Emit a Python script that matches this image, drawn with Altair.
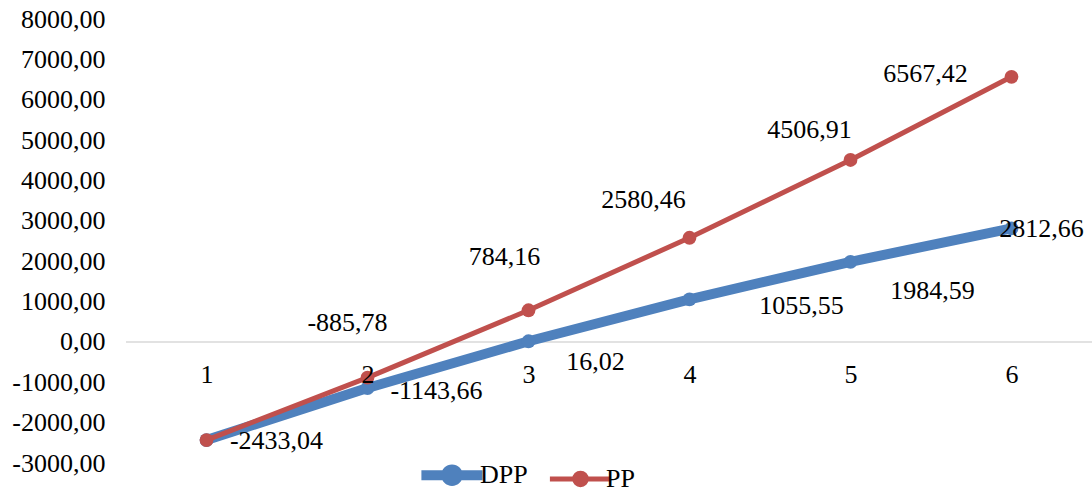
import altair as alt
import pandas as pd

# Payback series by period
periods = [1, 2, 3, 4, 5, 6]
dpp_values = [-2433.04, -1143.66, 16.02, 1055.55, 1984.59, 2812.66]
pp_values = [-2433.04, -885.78, 784.16, 2580.46, 4506.91, 6567.42]
series_names = ["DPP", "PP"]
series_colors = ["#4F81BD", "#C0504D"]
line_widths = [10, 5]
y_ticks = list(range(-3000, 8001, 1000))

# Data-label placement (dx, dy in px from the point); None = no label
dpp_label_offsets = [None, (69, 3), (67, 21), (112, 7), (82, 29), (30, 1)]
pp_label_offsets = [(70, 1), (-20, -55), (-24, -53), (-46, -38), (-41, -30), (-86, -3)]

FONT = "Liberation Serif"
FS = 26


def fmt(v):
    return f"{v:.2f}".replace(".", ",")


rows = []
for name, vals in zip(series_names, [dpp_values, pp_values]):
    for p, v in zip(periods, vals):
        rows.append({"period": p, "series": name, "value": v, "label": fmt(v)})
df = pd.DataFrame(rows)

x_enc = alt.X(
    "period:O",
    scale=alt.Scale(type="point", padding=0.5),
    axis=alt.Axis(
        title=None, orient="bottom", offset=-121, labelAngle=0,
        labelFont=FONT, labelFontSize=FS, labelColor="#000000",
        labelPadding=19, ticks=False, tickSize=0, domain=False,
        grid=False, zindex=1,
    ),
)
y_enc = alt.Y(
    "value:Q",
    scale=alt.Scale(domain=[-3000, 8000], nice=False, zero=False),
    axis=alt.Axis(
        title=None, values=y_ticks, grid=False, domain=False, ticks=False,
        labelFont=FONT, labelFontSize=FS, labelColor="#000000", labelPadding=21,
        labelExpr="(datum.value < 0 ? '-' : '') + replace(format(abs(datum.value), '.2f'), '.', ',')",
    ),
)

# Legend swatch: a line with a solid dot (concentric stroked rings fill the dot)
legend_symbol = (
    "M-1.33,0L1.33,0"
    "M0.1,0A0.1,0.1,0,1,1,-0.1,0A0.1,0.1,0,1,1,0.1,0"
    "M0.25,0A0.25,0.25,0,1,1,-0.25,0A0.25,0.25,0,1,1,0.25,0"
)
legend = alt.Legend(
    title=None, orient="none", legendX=298, legendY=428, direction="horizontal",
    symbolType=legend_symbol, symbolSize=2116, labelFont=FONT, labelFontSize=FS,
    labelColor="#000000", labelOffset=0, columnPadding=11, padding=0,
)
color_enc = alt.Color(
    "series:N", scale=alt.Scale(domain=series_names, range=series_colors), legend=legend
)
width_enc = alt.StrokeWidth(
    "series:N", scale=alt.Scale(domain=series_names, range=line_widths), legend=legend
)

# Zero baseline of the category axis, drawn beneath the series
zero_line = alt.Chart(pd.DataFrame({"z": [0]})).mark_rule(
    color="#d9d9d9", strokeWidth=1.5
).encode(y=alt.Y("z:Q", scale=alt.Scale(domain=[-3000, 8000], nice=False, zero=False)))

layers = [zero_line]
for name in series_names:
    sub = alt.Chart(df).transform_filter(alt.datum.series == name)
    layers.append(
        sub.mark_line(strokeCap="round", strokeJoin="round").encode(
            x=x_enc, y=y_enc, color=color_enc, strokeWidth=width_enc
        )
    )
    layers.append(
        sub.mark_circle(size=190, opacity=1).encode(x=x_enc, y=y_enc, color=color_enc)
    )

# Value labels
for name, vals, offsets in [
    ("DPP", dpp_values, dpp_label_offsets),
    ("PP", pp_values, pp_label_offsets),
]:
    for p, v, off in zip(periods, vals, offsets):
        if off is None:
            continue
        one = pd.DataFrame([{"period": p, "value": v, "label": fmt(v)}])
        layers.append(
            alt.Chart(one)
            .mark_text(dx=off[0], dy=off[1], font=FONT, fontSize=FS, color="#000000",
                       align="center", baseline="middle")
            .encode(x=x_enc, y=y_enc, text="label:N")
        )

chart = (
    alt.layer(*layers)
    .properties(
        width=966, height=444, background="#ffffff",
        autosize=alt.AutoSizeParams(type="none"),
        padding={"left": 126, "top": 19, "right": 0, "bottom": 25},
    )
    .configure_view(stroke=None)
)

chart.save("out.html", embed_options={"renderer": "svg", "actions": False})
